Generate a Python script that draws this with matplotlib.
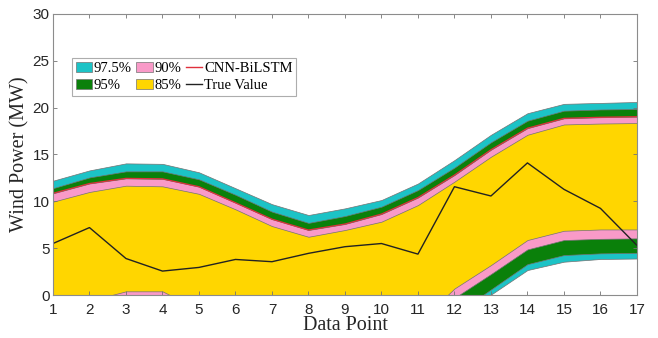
import numpy as np
import matplotlib
matplotlib.use('Agg')
import matplotlib.pyplot as plt
from matplotlib.patches import Patch
from matplotlib.lines import Line2D

points = np.arange(1, 18)

# interval bounds (MW)
up975 = [12.2, 13.3, 14.05, 14.0, 13.1, 11.4, 9.7, 8.54, 9.25, 10.14, 11.9, 14.4, 17.1, 19.4, 20.4, 20.5, 20.6]
up95 = [11.4, 12.55, 13.2, 13.2, 12.35, 10.7, 8.9, 7.7, 8.43, 9.43, 11.2, 13.6, 16.3, 18.6, 19.67, 19.8, 19.85]
up90 = [10.85, 11.9, 12.45, 12.4, 11.56, 9.85, 8.1, 6.94, 7.58, 8.64, 10.4, 12.8, 15.5, 17.8, 18.85, 18.97, 19.03]
up85 = [9.96, 11.0, 11.67, 11.6, 10.8, 9.15, 7.36, 6.22, 6.94, 7.83, 9.6, 12.1, 14.76, 17.1, 18.2, 18.3, 18.35]

lo85 = [-4.5, -0.6, 0.4, 0.4, -1.55, -3.0, -4.5, -5.0, -4.5, -4.0, -3.0, 0.7, 3.2, 5.87, 6.86, 7.0, 7.0]
lo90 = [-5.5, -1.6, -0.6, -0.6, -2.55, -4.0, -5.5, -6.0, -5.5, -5.0, -4.0, -0.3, 2.24, 4.87, 5.87, 6.0, 6.05]
lo95 = [-7.1, -3.2, -2.2, -2.2, -4.1, -5.6, -7.1, -7.6, -7.1, -6.6, -5.6, -2.1, 0.6, 3.3, 4.27, 4.45, 4.5]
lo975 = [-7.7, -3.8, -2.8, -2.8, -4.7, -6.2, -7.7, -8.2, -7.7, -7.2, -6.2, -2.6, 0.05, 2.67, 3.56, 3.85, 3.9]

# point forecast and measured power
cnn_bilstm = up90
true_value = [5.5, 7.2, 3.9, 2.56, 2.95, 3.8, 3.56, 4.45, 5.16, 5.5, 4.37, 11.56, 10.57, 14.1, 11.28, 9.25, 5.3]

c975 = '#1cc3c6'
c95 = '#0a800a'
c90 = '#f99ac8'
c85 = '#ffd600'

fig = plt.figure(figsize=(6.58, 3.38), dpi=100)
ax = fig.add_axes([0.0805, 0.127, 0.8875, 0.832])

edge = dict(edgecolor='0.45', linewidth=0.5)
ax.fill_between(points, lo975, up975, facecolor=c975, **edge)
ax.fill_between(points, lo95, up95, facecolor=c95, **edge)
ax.fill_between(points, lo90, up90, facecolor=c90, **edge)
ax.fill_between(points, lo85, up85, facecolor=c85, **edge)
ax.plot(points, cnn_bilstm, color='#e0303c', lw=0.9)
ax.plot(points, true_value, color='#222222', lw=1.0)

ax.set_xlim(1, 17)
ax.set_ylim(0, 30)
ax.set_xticks(points)
ax.set_yticks(np.arange(0, 31, 5))
ax.tick_params(direction='in', top=True, right=True, length=3, width=0.6,
               color='0.45', labelsize=11, labelcolor='#262626')
ax.tick_params(axis='x', pad=6)
ax.tick_params(axis='y', pad=2.5)
for lab in ax.get_xticklabels() + ax.get_yticklabels():
    lab.set_family('Liberation Sans')
for sp in ax.spines.values():
    sp.set_color('0.55')
    sp.set_linewidth(0.8)

ax.set_xlabel('Data Point', family='Liberation Serif', fontsize=14.5, color='#262626', labelpad=-1)
ax.set_ylabel('Wind Power (MW)', family='Liberation Serif', fontsize=14.5, color='#262626', labelpad=2)

handles = [Patch(facecolor=c975, edgecolor='0.45', lw=0.5, label='97.5%'),
           Patch(facecolor=c95, edgecolor='0.45', lw=0.5, label='95%'),
           Patch(facecolor=c90, edgecolor='0.45', lw=0.5, label='90%'),
           Patch(facecolor=c85, edgecolor='0.45', lw=0.5, label='85%'),
           Line2D([], [], color='#e0303c', lw=1, label='CNN-BiLSTM'),
           Line2D([], [], color='#222222', lw=1, label='True Value')]
leg = ax.legend(handles=handles, ncol=3, loc='upper left', bbox_to_anchor=(0.0325, 0.843),
                prop={'family': 'Liberation Serif', 'size': 10.5}, frameon=True, fancybox=False,
                edgecolor='0.6', borderpad=0.25, handlelength=1.15, handleheight=0.7,
                handletextpad=0.1, columnspacing=0.3, labelspacing=0.3, borderaxespad=0)
leg.get_frame().set_linewidth(0.8)

fig.savefig('out.png', dpi=100)
